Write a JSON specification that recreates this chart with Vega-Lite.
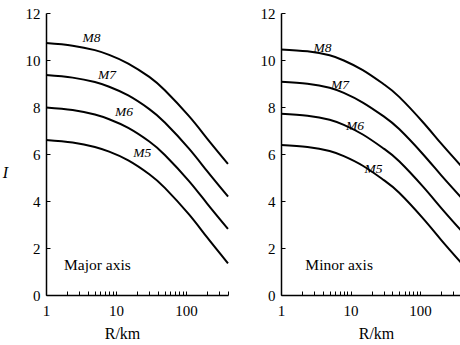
{
  "$schema": "https://vega.github.io/schema/vega-lite/v6.json",
  "padding": {"left": 2, "top": 6, "right": 0, "bottom": 0},
  "background": "white",
  "config": {
    "font": "Liberation Serif",
    "view": {"stroke": null},
    "axis": {
      "grid": false,
      "domainColor": "black",
      "domainWidth": 1.5,
      "tickColor": "black",
      "tickWidth": 1,
      "labelColor": "black",
      "labelFont": "Liberation Serif",
      "labelFontSize": 15,
      "titleFont": "Liberation Serif",
      "titleFontSize": 16,
      "titleFontWeight": "normal",
      "titleColor": "black"
    }
  },
  "datasets": {
    "major": [
      {"M": "M8", "R": 1, "I": 10.72}, {"M": "M8", "R": 2.4, "I": 10.61}, {"M": "M8", "R": 5, "I": 10.42}, {"M": "M8", "R": 8, "I": 10.22}, {"M": "M8", "R": 15, "I": 9.85}, {"M": "M8", "R": 30, "I": 9.28}, {"M": "M8", "R": 50, "I": 8.71}, {"M": "M8", "R": 110, "I": 7.62}, {"M": "M8", "R": 200, "I": 6.67}, {"M": "M8", "R": 400, "I": 5.58},
      {"M": "M7", "R": 1, "I": 9.36}, {"M": "M7", "R": 2.4, "I": 9.25}, {"M": "M7", "R": 5, "I": 9.06}, {"M": "M7", "R": 8, "I": 8.86}, {"M": "M7", "R": 15, "I": 8.49}, {"M": "M7", "R": 30, "I": 7.91}, {"M": "M7", "R": 50, "I": 7.34}, {"M": "M7", "R": 110, "I": 6.24}, {"M": "M7", "R": 200, "I": 5.28}, {"M": "M7", "R": 400, "I": 4.19},
      {"M": "M6", "R": 1, "I": 7.98}, {"M": "M6", "R": 2.4, "I": 7.87}, {"M": "M6", "R": 5, "I": 7.68}, {"M": "M6", "R": 8, "I": 7.48}, {"M": "M6", "R": 15, "I": 7.11}, {"M": "M6", "R": 30, "I": 6.53}, {"M": "M6", "R": 50, "I": 5.96}, {"M": "M6", "R": 110, "I": 4.86}, {"M": "M6", "R": 200, "I": 3.9}, {"M": "M6", "R": 400, "I": 2.81},
      {"M": "M5", "R": 1, "I": 6.6}, {"M": "M5", "R": 2.4, "I": 6.49}, {"M": "M5", "R": 5, "I": 6.3}, {"M": "M5", "R": 8, "I": 6.1}, {"M": "M5", "R": 15, "I": 5.73}, {"M": "M5", "R": 30, "I": 5.14}, {"M": "M5", "R": 50, "I": 4.56}, {"M": "M5", "R": 110, "I": 3.44}, {"M": "M5", "R": 200, "I": 2.46}, {"M": "M5", "R": 400, "I": 1.35}
    ],
    "minor": [
      {"M": "M8", "R": 1, "I": 10.45}, {"M": "M8", "R": 2.4, "I": 10.37}, {"M": "M8", "R": 5, "I": 10.2}, {"M": "M8", "R": 8, "I": 9.98}, {"M": "M8", "R": 15, "I": 9.57}, {"M": "M8", "R": 30, "I": 8.97}, {"M": "M8", "R": 50, "I": 8.43}, {"M": "M8", "R": 110, "I": 7.35}, {"M": "M8", "R": 200, "I": 6.45}, {"M": "M8", "R": 400, "I": 5.45},
      {"M": "M7", "R": 1, "I": 9.07}, {"M": "M7", "R": 2.4, "I": 8.99}, {"M": "M7", "R": 5, "I": 8.82}, {"M": "M7", "R": 8, "I": 8.6}, {"M": "M7", "R": 15, "I": 8.19}, {"M": "M7", "R": 30, "I": 7.6}, {"M": "M7", "R": 50, "I": 7.06}, {"M": "M7", "R": 110, "I": 5.99}, {"M": "M7", "R": 200, "I": 5.1}, {"M": "M7", "R": 400, "I": 4.11},
      {"M": "M6", "R": 1, "I": 7.71}, {"M": "M6", "R": 2.4, "I": 7.63}, {"M": "M6", "R": 5, "I": 7.46}, {"M": "M6", "R": 8, "I": 7.24}, {"M": "M6", "R": 15, "I": 6.83}, {"M": "M6", "R": 30, "I": 6.23}, {"M": "M6", "R": 50, "I": 5.69}, {"M": "M6", "R": 110, "I": 4.61}, {"M": "M6", "R": 200, "I": 3.71}, {"M": "M6", "R": 400, "I": 2.7},
      {"M": "M5", "R": 1, "I": 6.38}, {"M": "M5", "R": 2.4, "I": 6.3}, {"M": "M5", "R": 5, "I": 6.13}, {"M": "M5", "R": 8, "I": 5.91}, {"M": "M5", "R": 15, "I": 5.5}, {"M": "M5", "R": 30, "I": 4.89}, {"M": "M5", "R": 50, "I": 4.35}, {"M": "M5", "R": 110, "I": 3.26}, {"M": "M5", "R": 200, "I": 2.35}, {"M": "M5", "R": 400, "I": 1.33}
    ],
    "majorTags": [
      {"M": "M8", "R": 4.47, "I": 10.95},
      {"M": "M7", "R": 7.45, "I": 9.36},
      {"M": "M6", "R": 13.0, "I": 7.77},
      {"M": "M5", "R": 23.7, "I": 6.04}
    ],
    "minorTags": [
      {"M": "M8", "R": 3.96, "I": 10.5},
      {"M": "M7", "R": 7.07, "I": 8.93},
      {"M": "M6", "R": 11.6, "I": 7.2},
      {"M": "M5", "R": 21.4, "I": 5.35}
    ],
    "majorNote": [{"note": "Major axis", "R": 1.81, "I": 1.26}],
    "minorNote": [{"note": "Minor axis", "R": 2.24, "I": 1.26}]
  },
  "spacing": 28,
  "hconcat": [
    {
      "width": 182,
      "height": 282,
      "layer": [
        {
          "data": {"name": "major"},
          "mark": {"type": "line", "color": "black", "strokeWidth": 2, "interpolate": "natural"},
          "encoding": {
            "x": {
              "field": "R", "type": "quantitative",
              "scale": {"type": "log", "domain": [1, 400], "nice": false},
              "axis": {
                "title": "R/km", "titleX": 76, "titleY": 38, "titleBaseline": "middle",
                "values": [1, 2, 3, 4, 5, 6, 7, 8, 9, 10, 20, 30, 40, 50, 60, 70, 80, 90, 100, 200, 300, 400],
                "labelExpr": "(datum.value == 1 || datum.value == 10 || datum.value == 100) ? format(datum.value, 'd') : ''",
                "tickSize": -4,
                "labelPadding": 12,
                "labelFlush": false
              }
            },
            "y": {
              "field": "I", "type": "quantitative",
              "scale": {"domain": [0, 12], "nice": false},
              "axis": {
                "title": "I", "titleFontStyle": "italic", "titleAngle": 0,
                "titleX": -41, "titleY": 159, "titleAlign": "center", "titleBaseline": "middle",
                "values": [0, 1, 2, 3, 4, 5, 6, 7, 8, 9, 10, 11, 12],
                "labelExpr": "datum.value % 2 == 0 ? datum.label : ''",
                "tickSize": -4,
                "labelPadding": 10
              }
            },
            "detail": {"field": "M"}
          }
        },
        {
          "data": {"name": "majorTags"},
          "mark": {"type": "text", "fontStyle": "italic", "fontSize": 13.5, "color": "black", "baseline": "middle"},
          "encoding": {
            "x": {"field": "R", "type": "quantitative"},
            "y": {"field": "I", "type": "quantitative"},
            "text": {"field": "M"}
          }
        },
        {
          "data": {"name": "majorNote"},
          "mark": {"type": "text", "fontSize": 15.5, "color": "black", "align": "left", "baseline": "middle"},
          "encoding": {
            "x": {"field": "R", "type": "quantitative"},
            "y": {"field": "I", "type": "quantitative"},
            "text": {"field": "note"}
          }
        }
      ]
    },
    {
      "width": 181,
      "height": 282,
      "layer": [
        {
          "data": {"name": "minor"},
          "mark": {"type": "line", "color": "black", "strokeWidth": 2, "interpolate": "natural"},
          "encoding": {
            "x": {
              "field": "R", "type": "quantitative",
              "scale": {"type": "log", "domain": [1, 400], "nice": false},
              "axis": {
                "title": "R/km", "titleX": 95, "titleY": 38, "titleBaseline": "middle",
                "values": [1, 2, 3, 4, 5, 6, 7, 8, 9, 10, 20, 30, 40, 50, 60, 70, 80, 90, 100, 200, 300, 400],
                "labelExpr": "(datum.value == 1 || datum.value == 10 || datum.value == 100) ? format(datum.value, 'd') : ''",
                "tickSize": -4,
                "labelPadding": 12,
                "labelFlush": false
              }
            },
            "y": {
              "field": "I", "type": "quantitative",
              "scale": {"domain": [0, 12], "nice": false},
              "axis": {
                "title": null,
                "values": [0, 1, 2, 3, 4, 5, 6, 7, 8, 9, 10, 11, 12],
                "labelExpr": "datum.value % 2 == 0 ? datum.label : ''",
                "tickSize": -4,
                "labelPadding": 10
              }
            },
            "detail": {"field": "M"}
          }
        },
        {
          "data": {"name": "minorTags"},
          "mark": {"type": "text", "fontStyle": "italic", "fontSize": 13.5, "color": "black", "baseline": "middle"},
          "encoding": {
            "x": {"field": "R", "type": "quantitative"},
            "y": {"field": "I", "type": "quantitative"},
            "text": {"field": "M"}
          }
        },
        {
          "data": {"name": "minorNote"},
          "mark": {"type": "text", "fontSize": 15.5, "color": "black", "align": "left", "baseline": "middle"},
          "encoding": {
            "x": {"field": "R", "type": "quantitative"},
            "y": {"field": "I", "type": "quantitative"},
            "text": {"field": "note"}
          }
        }
      ]
    }
  ]
}
